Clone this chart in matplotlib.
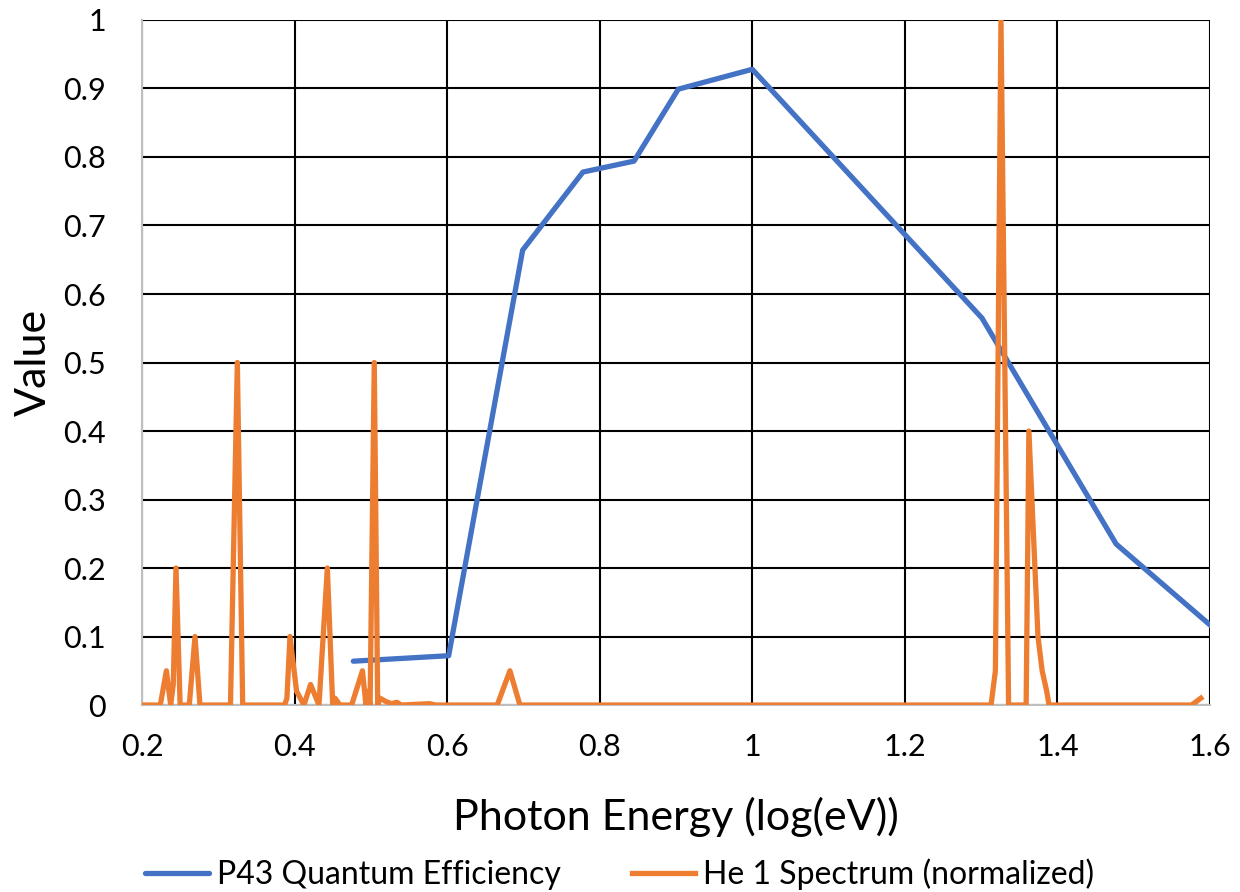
import matplotlib
matplotlib.use('Agg')
import matplotlib.pyplot as plt
from matplotlib.ticker import MultipleLocator, FuncFormatter

# P43 quantum efficiency (x = log10 of photon energy in eV)
qe_x = [0.477, 0.602, 0.699, 0.778, 0.845, 0.903, 1.0, 1.301, 1.477, 1.602]
qe_y = [0.064, 0.072, 0.664, 0.778, 0.794, 0.899, 0.928, 0.565, 0.235, 0.115]

# He 1 spectrum, normalized
he_x = [0.200, 0.224, 0.232, 0.2376, 0.241, 0.2446, 0.250, 0.262, 0.2695, 0.276,
        0.316, 0.325, 0.332, 0.387, 0.390, 0.394, 0.4027, 0.4123, 0.421, 0.432,
        0.443, 0.450, 0.453, 0.4595, 0.4748, 0.489, 0.4936, 0.496, 0.499, 0.5045,
        0.509, 0.512, 0.520, 0.527, 0.534, 0.540, 0.577, 0.585, 0.6657, 0.6823,
        0.6954, 1.313, 1.3187, 1.326, 1.336, 1.359, 1.3626, 1.3745, 1.380, 1.386,
        1.389, 1.5758, 1.588]
he_y = [0.0, 0.0, 0.05, 0.0, 0.03, 0.2, 0.0, 0.0, 0.1, 0.0,
        0.0, 0.5, 0.0, 0.0, 0.01, 0.1, 0.02, 0.0, 0.03, 0.0,
        0.2, 0.0, 0.01, 0.0, 0.0, 0.05, 0.0, 0.02, 0.0, 0.5,
        0.0, 0.01, 0.005, 0.002, 0.004, 0.0, 0.002, 0.0, 0.0, 0.05,
        0.0, 0.0, 0.05, 1.0, 0.0, 0.0, 0.4, 0.1, 0.05, 0.02,
        0.0, 0.0, 0.01]

plt.rcParams['font.family'] = ['Lato', 'DejaVu Sans']

fig = plt.figure(figsize=(12.4, 8.92), dpi=100)
ax = fig.add_axes([0.1145, 0.2096, 0.8613, 0.768])

ax.plot(qe_x, qe_y, color='#4472C4', lw=3.8, label='P43 Quantum Efficiency',
        solid_joinstyle='round', solid_capstyle='round', zorder=3)
ax.plot(he_x, he_y, color='#ED7D31', lw=3.8, label='He 1 Spectrum (normalized)',
        solid_joinstyle='round', zorder=4)

ax.set_xlim(0.2, 1.6)
ax.set_ylim(0, 1)
ax.xaxis.set_major_locator(MultipleLocator(0.2))
ax.yaxis.set_major_locator(MultipleLocator(0.1))
fmt = FuncFormatter(lambda v, p: ('%.1f' % v).rstrip('0').rstrip('.') if abs(v) > 1e-9 else '0')
ax.xaxis.set_major_formatter(fmt)
ax.yaxis.set_major_formatter(fmt)
ax.grid(True, color='black', lw=1.5)
ax.set_axisbelow(True)
ax.tick_params(axis='x', length=0, labelsize=22, pad=20)
ax.tick_params(axis='y', length=0, labelsize=22, pad=26)

for s in ['top', 'right']:
    ax.spines[s].set_visible(False)
for s in ['left', 'bottom']:
    ax.spines[s].set_color('#BFBFBF')
    ax.spines[s].set_linewidth(1.5)

ax.set_xlabel('Photon Energy (log(eV))', fontsize=31, labelpad=26)
ax.set_ylabel('Value', fontsize=31)
ax.yaxis.set_label_coords(-0.083, 0.5)

fig.legend(loc='lower center', bbox_to_anchor=(0.5, -0.03), ncol=2, frameon=False,
           fontsize=23, handlelength=2.0, columnspacing=2.2, handletextpad=0.25)

fig.savefig('out.png', dpi=100)
